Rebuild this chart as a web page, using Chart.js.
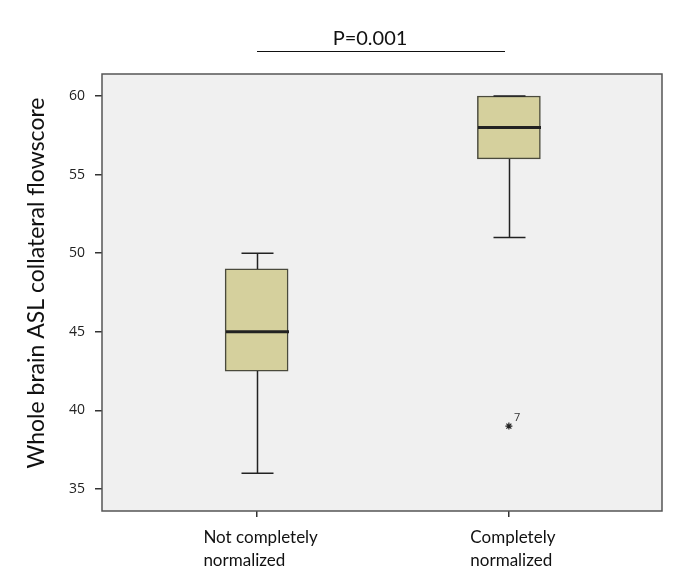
<!DOCTYPE html>
<html>
<head>
<meta charset="utf-8">
<script src="https://cdn.jsdelivr.net/npm/chart.js@4.4.0/dist/chart.umd.min.js"></script>
<style>
  html, body { margin: 0; padding: 0; background: white; }
  #wrap { width: 694px; height: 587px; }
</style>
</head>
<body>
<div id="wrap"><canvas id="boxchart" width="694" height="587"></canvas></div>
<script>
// box plot values
const groupLabels = [["Not completely", "normalized"], ["Completely", "normalized"]];
const mins = [36, 51];
const q1s = [42.5, 56];
const medians = [45, 58];
const q3s = [49, 60];
const maxs = [50, 60];
const outlierGroup = [1];
const outlierValue = [39];
const outlierId = ["7"];
const yTicks = [35, 40, 45, 50, 55, 60];
const pText = "P=0.001";
const yTitle = "Whole brain ASL collateral flowscore";

const boxFill = "#d5d09d";
const ink = "#222";

const boxPlugin = {
  id: "boxParts",
  beforeDraw(chart) {
    const a = chart.chartArea;
    const c = chart.ctx;
    c.save();
    c.fillStyle = "#f0f0f0";
    c.fillRect(a.left, a.top, a.right - a.left, a.bottom - a.top);
    c.restore();
  },
  afterDatasetsDraw(chart) {
    const c = chart.ctx;
    const x = chart.scales.x, y = chart.scales.y;
    c.save();
    c.strokeStyle = ink;
    c.lineWidth = 1.5;
    for (let i = 0; i < mins.length; i++) {
      const px = Math.round(x.getPixelForValue(i)) + 0.5;
      const cap = 16;
      c.beginPath();
      // upper whisker
      c.moveTo(px, y.getPixelForValue(q3s[i]));
      c.lineTo(px, y.getPixelForValue(maxs[i]));
      c.moveTo(px - cap, y.getPixelForValue(maxs[i]));
      c.lineTo(px + cap, y.getPixelForValue(maxs[i]));
      // lower whisker
      c.moveTo(px, y.getPixelForValue(q1s[i]));
      c.lineTo(px, y.getPixelForValue(mins[i]));
      c.moveTo(px - cap, y.getPixelForValue(mins[i]));
      c.lineTo(px + cap, y.getPixelForValue(mins[i]));
      c.stroke();
      // median
      c.beginPath();
      c.lineWidth = 3;
      c.moveTo(px - 31.5, y.getPixelForValue(medians[i]));
      c.lineTo(px + 31.5, y.getPixelForValue(medians[i]));
      c.stroke();
      c.lineWidth = 1.5;
    }
    // outlier ids
    c.fillStyle = "#333";
    c.font = "11px 'Open Sans'";
    c.textAlign = "left";
    c.textBaseline = "middle";
    for (let j = 0; j < outlierId.length; j++) {
      c.fillText(outlierId[j], x.getPixelForValue(outlierGroup[j]) + 5, y.getPixelForValue(outlierValue[j]) - 8);
    }
    c.restore();
  },
  afterDraw(chart) {
    const a = chart.chartArea;
    const c = chart.ctx;
    const x = chart.scales.x;
    c.save();
    // frame
    c.strokeStyle = "#555";
    c.lineWidth = 1.5;
    c.strokeRect(a.left, a.top, a.right - a.left, a.bottom - a.top);
    // category labels, lines left aligned inside a centred block
    c.fillStyle = "#111";
    c.font = "17px Lato";
    c.textAlign = "left";
    c.textBaseline = "middle";
    groupLabels.forEach(function (lines, i) {
      let w = 0;
      lines.forEach(function (t) { w = Math.max(w, c.measureText(t).width); });
      const left = x.getPixelForValue(i) - w / 2 + 4;
      lines.forEach(function (t, k) {
        c.fillText(t, left, a.bottom + 27 + k * 23);
      });
    });
    // y axis title
    c.save();
    c.translate(37, 283);
    c.rotate(-Math.PI / 2);
    c.font = "23px Lato";
    c.textAlign = "center";
    c.fillText(yTitle, 0, 0);
    c.restore();
    // p value with the line under it
    c.font = "20px Lato";
    c.textAlign = "center";
    c.textBaseline = "alphabetic";
    c.fillText(pText, 370, 45);
    c.strokeStyle = "#111";
    c.lineWidth = 1;
    c.beginPath();
    c.moveTo(257, 51.5);
    c.lineTo(505, 51.5);
    c.stroke();
    c.restore();
  }
};

new Chart(document.getElementById("boxchart"), {
  data: {
    datasets: [
      {
        type: "bar",
        data: q1s.map(function (q, i) { return { x: i, y: [q, q3s[i]] }; }),
        backgroundColor: boxFill,
        borderColor: "#4a4a3c",
        borderWidth: 1.5,
        borderSkipped: false,
        barThickness: 63,
      },
      {
        type: "scatter",
        data: outlierValue.map(function (v, j) { return { x: outlierGroup[j], y: v }; }),
        pointStyle: "star",
        radius: 3.5,
        borderColor: ink,
        borderWidth: 1.2,
      },
    ],
  },
  options: {
    responsive: false,
    animation: false,
    layout: { padding: { left: 0, right: 32, top: 74, bottom: 0 } },
    plugins: {
      legend: { display: false },
      tooltip: { enabled: false },
    },
    scales: {
      x: {
        type: "linear",
        offset: false,
        min: -0.613,
        max: 1.607,
        afterBuildTicks: function (scale) {
          scale.ticks = [{ value: 0 }, { value: 1 }];
        },
        afterFit: function (scale) { scale.height = 76; },
        ticks: { display: false },
        grid: { offset: false, drawOnChartArea: false, drawTicks: true, tickLength: 6, color: "#333", lineWidth: 1.5 },
        border: { display: false },
      },
      y: {
        min: 33.6,
        max: 61.4,
        afterBuildTicks: function (scale) {
          scale.ticks = yTicks.map(function (v) { return { value: v }; });
        },
        afterFit: function (scale) { scale.width = 102; },
        ticks: {
          color: "#222",
          padding: 10,
          font: { family: "Open Sans", size: 14 },
        },
        grid: { drawOnChartArea: false, drawTicks: true, tickLength: 7, color: "#333", lineWidth: 1.5 },
        border: { display: false },
      },
    },
  },
  plugins: [boxPlugin],
});
</script>
</body>
</html>
